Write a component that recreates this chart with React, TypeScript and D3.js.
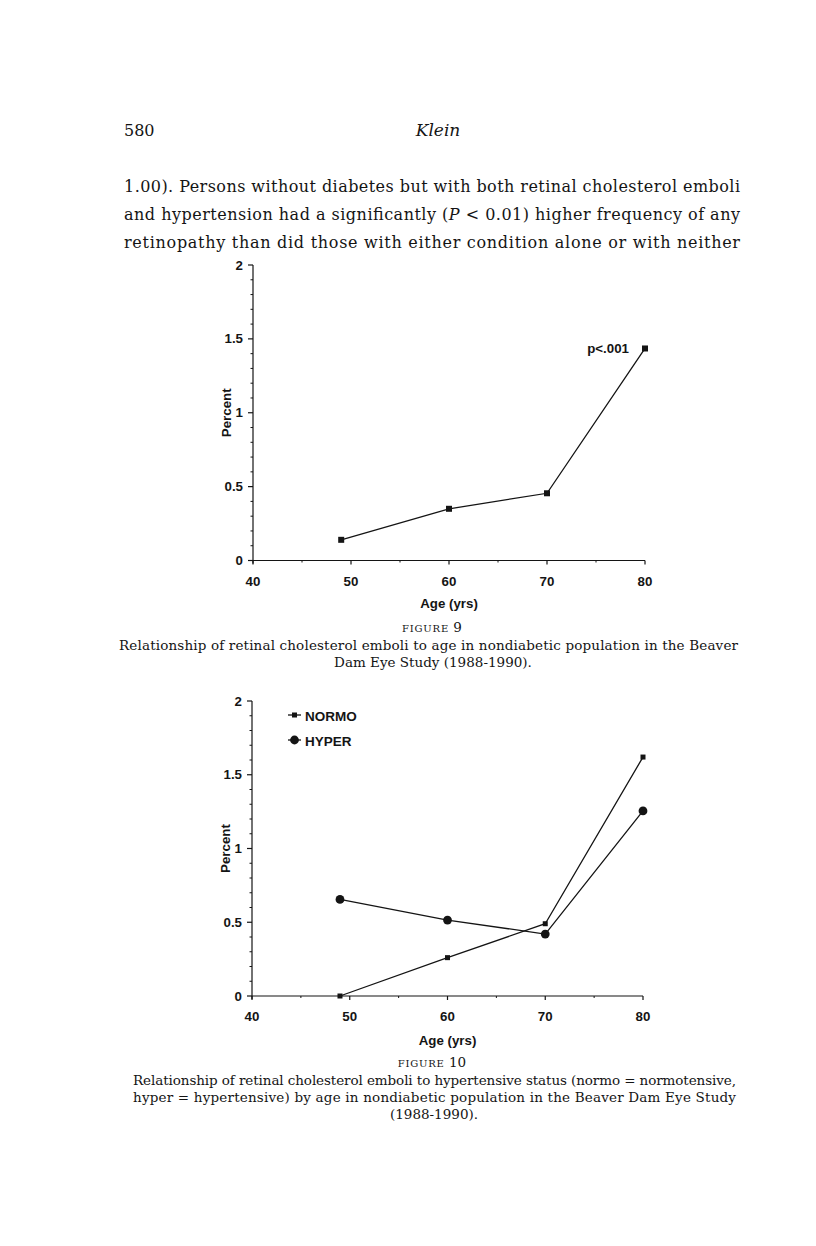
import React from "react";
import * as d3 from "d3";

const W = 816;
const H = 1246;

// values
const AGES = [49, 60, 70, 80];
const FIG9_PERCENT = [0.14, 0.35, 0.455, 1.435];
const NORMO_PERCENT = [0, 0.26, 0.49, 1.62];
const HYPER_PERCENT = [0.655, 0.515, 0.42, 1.255];

const X_TICKS = [40, 50, 60, 70, 80];
const X_MINOR = [45, 55, 65, 75];
const Y_TICKS = [0, 0.5, 1, 1.5, 2];
const Y_TICK_LABELS = ["0", "0.5", "1", "1.5", "2"];
const Y_MINOR = d3.range(1, 20).map((d) => d / 10).filter((d) => !Y_TICKS.includes(d));

const BODY_LINES = [
  "1.00). Persons without diabetes but with both retinal cholesterol emboli",
  "and hypertension had a significantly (P < 0.01) higher frequency of any",
  "retinopathy than did those with either condition alone or with neither",
];

const SERIF = "'DejaVu Serif', 'Liberation Serif', serif";
const SANS = "'Liberation Sans', Arial, sans-serif";
const INK = "#141414";
const LABEL = { fontFamily: SANS, fontWeight: 700, fontSize: 13.3, fill: INK };

function Axes({ x, y }) {
  const [x0, x1] = x.range();
  const [y0, y1] = y.range();
  return (
    <g stroke={INK} strokeWidth={1.2} fill="none">
      <line x1={x0} x2={x0} y1={y1} y2={y0 + 3} />
      <line x1={x0} x2={x1} y1={y0} y2={y0} />
      {Y_TICKS.map((t) => (
        <line key={"ym" + t} x1={x0 - 5} x2={x0} y1={y(t)} y2={y(t)} />
      ))}
      {Y_MINOR.map((t) => (
        <line key={"yn" + t} x1={x0 - 2.5} x2={x0} y1={y(t)} y2={y(t)} strokeWidth={1} />
      ))}
      {X_TICKS.map((t) => (
        <line key={"xm" + t} x1={x(t)} x2={x(t)} y1={y0} y2={y0 + 4} />
      ))}
      {X_MINOR.map((t) => (
        <line key={"xn" + t} x1={x(t)} x2={x(t)} y1={y0} y2={y0 + 2} strokeWidth={1} />
      ))}
    </g>
  );
}

function AxisText({ x, y, labelGap }) {
  const [x0] = x.range();
  const [y0, y1] = y.range();
  return (
    <g style={LABEL}>
      {Y_TICKS.map((t, i) => (
        <text key={t} x={x0 - 10} y={y(t) + 4.5} textAnchor="end">
          {Y_TICK_LABELS[i]}
        </text>
      ))}
      {X_TICKS.map((t) => (
        <text key={t} x={x(t)} y={y0 + 25} textAnchor="middle">
          {t}
        </text>
      ))}
      <text x={x(60)} y={y0 + labelGap} textAnchor="middle">
        Age (yrs)
      </text>
      <text
        transform={`translate(${x0 - 22},${(y0 + y1) / 2}) rotate(-90)`}
        textAnchor="middle"
      >
        Percent
      </text>
    </g>
  );
}

function Squares({ x, y, values, size }) {
  return (
    <g fill={INK}>
      {values.map((v, i) => (
        <rect key={i} x={x(AGES[i]) - size / 2} y={y(v) - size / 2} width={size} height={size} />
      ))}
    </g>
  );
}

function Dots({ x, y, values, r }) {
  return (
    <g fill={INK}>
      {values.map((v, i) => (
        <circle key={i} cx={x(AGES[i])} cy={y(v)} r={r} />
      ))}
    </g>
  );
}

export default function App() {
  // figure 9
  const x9 = d3.scaleLinear().domain([40, 80]).range([253, 645]);
  const y9 = d3.scaleLinear().domain([0, 2]).range([560.5, 265]);
  // figure 10
  const x10 = d3.scaleLinear().domain([40, 80]).range([252, 643]);
  const y10 = d3.scaleLinear().domain([0, 2]).range([996, 701]);

  const line9 = d3
    .line<number>()
    .x((_, i) => x9(AGES[i]))
    .y((d) => y9(d));
  const line10 = d3
    .line<number>()
    .x((_, i) => x10(AGES[i]))
    .y((d) => y10(d));

  const serif = { fontFamily: SERIF, fill: INK };

  return (
    <svg
      width={W}
      height={H}
      viewBox={`0 0 ${W} ${H}`}
      style={{ position: "absolute", left: 0, top: 0, background: "#fff" }}
    >
      <rect width={W} height={H} fill="#fff" />

      {/* page header */}
      <g style={serif}>
        <text x={124} y={136} fontSize={16}>
          580
        </text>
        <text x={438} y={136} fontSize={17} fontStyle="italic" textAnchor="middle">
          Klein
        </text>
        {BODY_LINES.map((l, i) => (
          <text
            key={i}
            x={124}
            y={192 + i * 28}
            fontSize={16}
            textLength={616}
            lengthAdjust="spacing"
          >
            {i === 1 ? (
              <>
                and hypertension had a significantly (<tspan fontStyle="italic">P</tspan> {"<"} 0.01)
                higher frequency of any
              </>
            ) : (
              l
            )}
          </text>
        ))}
      </g>

      {/* figure 9 */}
      <Axes x={x9} y={y9} />
      <path d={line9(FIG9_PERCENT) ?? ""} fill="none" stroke={INK} strokeWidth={1.3} />
      <Squares x={x9} y={y9} values={FIG9_PERCENT} size={6} />
      <AxisText x={x9} y={y9} labelGap={47.5} />
      <text x={x9(80) - 16} y={y9(FIG9_PERCENT[3]) + 5} textAnchor="end" style={LABEL}>
        p{"<"}.001
      </text>

      <g style={serif} textAnchor="middle">
        <text x={432} y={632} fontSize={13.5}>
          <tspan fontSize={10} letterSpacing={0.8}>FIGURE</tspan> 9
        </text>
        <text x={119} y={650} fontSize={13.5} textAnchor="start" textLength={619} lengthAdjust="spacing">
          Relationship of retinal cholesterol emboli to age in nondiabetic population in the Beaver
        </text>
        <text x={433} y={667} fontSize={13.5}>
          Dam Eye Study (1988-1990).
        </text>
      </g>

      {/* figure 10 */}
      <Axes x={x10} y={y10} />
      <path d={line10(NORMO_PERCENT) ?? ""} fill="none" stroke={INK} strokeWidth={1.3} />
      <path d={line10(HYPER_PERCENT) ?? ""} fill="none" stroke={INK} strokeWidth={1.3} />
      <Squares x={x10} y={y10} values={NORMO_PERCENT} size={5} />
      <Dots x={x10} y={y10} values={HYPER_PERCENT} r={4.4} />
      <AxisText x={x10} y={y10} labelGap={48.5} />

      {/* legend */}
      <g style={{ ...LABEL, fontSize: 13.5 }}>
        <line x1={288} x2={301} y1={715} y2={715} stroke={INK} strokeWidth={1.3} />
        <rect x={292} y={712.5} width={5} height={5} fill={INK} />
        <text x={305} y={720.5}>NORMO</text>
        <line x1={288} x2={301} y1={740} y2={740} stroke={INK} strokeWidth={1.3} />
        <circle cx={294.5} cy={740} r={4.4} fill={INK} />
        <text x={305} y={745.5}>HYPER</text>
      </g>

      <g style={serif} textAnchor="middle">
        <text x={432} y={1067} fontSize={13.5}>
          <tspan fontSize={10} letterSpacing={0.8}>FIGURE</tspan> 10
        </text>
        <text x={133} y={1085} fontSize={13.5} textAnchor="start" textLength={603} lengthAdjust="spacing">
          Relationship of retinal cholesterol emboli to hypertensive status (normo = normotensive,
        </text>
        <text x={133} y={1102} fontSize={13.5} textAnchor="start" textLength={603} lengthAdjust="spacing">
          hyper = hypertensive) by age in nondiabetic population in the Beaver Dam Eye Study
        </text>
        <text x={434} y={1119} fontSize={13.5}>
          (1988-1990).
        </text>
      </g>
    </svg>
  );
}
